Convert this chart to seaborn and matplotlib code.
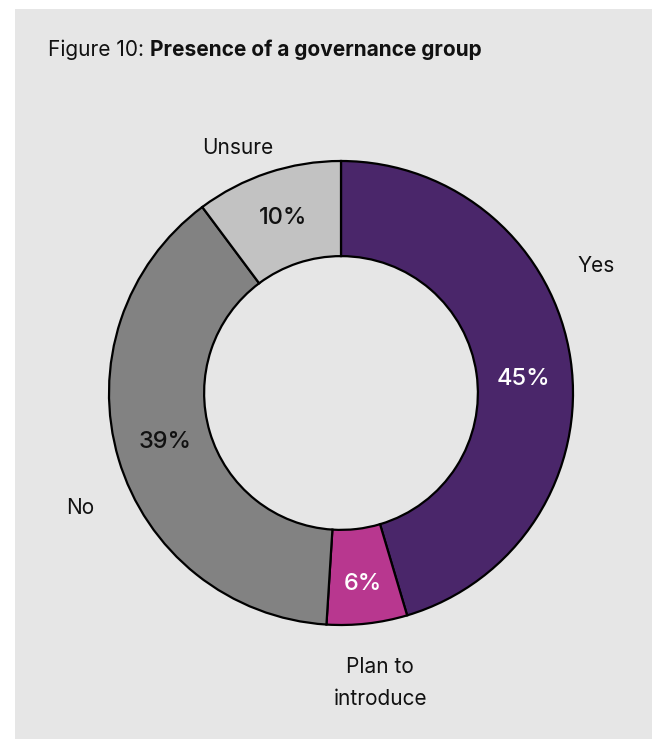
import numpy as np
import matplotlib
matplotlib.use("Agg")
import matplotlib.pyplot as plt
import seaborn as sns
from matplotlib.patches import Rectangle

# ---- data ----
categories = ["Yes", "Plan to\nintroduce", "No", "Unsure"]
values = [45.4, 5.6, 38.8, 10.2]
colors = ["#4a266a", "#b8378f", "#828282", "#c2c2c2"]
pct_colors = ["white", "white", "#111111", "#111111"]

sns.set_theme(style="white")
plt.rcParams["font.family"] = ["Inter", "DejaVu Sans"]

W, H = 653, 739
fig = plt.figure(figsize=(W / 100, H / 100), dpi=100)
fig.patch.set_facecolor("white")
bg = "#e6e6e6"
fig.patches.append(Rectangle((15 / W, 0), 1 - 15 / W - 1 / W, 1 - 9 / H,
                             transform=fig.transFigure, facecolor=bg,
                             edgecolor="none", zorder=-10))

# donut axes: centre (341, 393) px, radius 232 px
cx, cy, R = 341, 393, 232
half = 1.25 * R
ax = fig.add_axes([(cx - half) / W, (H - cy - half) / H, 2 * half / W, 2 * half / H])
ax.set_facecolor("none")
ax.patch.set_alpha(0)

wedges, _ = ax.pie(values, colors=colors, startangle=90, counterclock=False,
                   radius=1.0,
                   wedgeprops=dict(width=0.41, edgecolor="black", linewidth=1.6))
ax.set_xlim(-1.25, 1.25)
ax.set_ylim(-1.25, 1.25)
ax.set_aspect("equal")
ax.axis("off")

# label placement derived from wedge angles
total = sum(values)
cum = np.cumsum([0] + values[:-1])
mids = 90 - (cum + np.array(values) / 2) / total * 360
pct_shift = [-4, 0, -1, 0]        # degrees
pct_r = [0.79, 0.83, 0.785, 0.795]
out_shift = [18.2, 1.2, 7.2, 4.4]
out_r = [1.228, 1.26, 1.229, 1.146]
for i, m in enumerate(mids):
    a = np.deg2rad(m + pct_shift[i])
    ax.text(pct_r[i] * np.cos(a), pct_r[i] * np.sin(a), f"{values[i]:.0f}%",
            ha="center", va="center", fontsize=17, color=pct_colors[i],
            fontweight="medium")
    b = np.deg2rad(m + out_shift[i])
    ax.text(out_r[i] * np.cos(b), out_r[i] * np.sin(b), categories[i],
            ha="center", va="center", fontsize=15, color="#111111",
            linespacing=1.75, clip_on=False)

# title
t1 = fig.text(48 / W, 1 - 50 / H, "Figure 10: ", fontsize=15, color="#111111",
              ha="left", va="center")
fig.canvas.draw()
bb = t1.get_window_extent(renderer=fig.canvas.get_renderer())
fig.text(bb.x1 / W, 1 - 50 / H, "Presence of a governance group", fontsize=15,
         fontweight="bold", color="#111111", ha="left", va="center")

fig.savefig("out.png", dpi=100, facecolor=fig.get_facecolor())
